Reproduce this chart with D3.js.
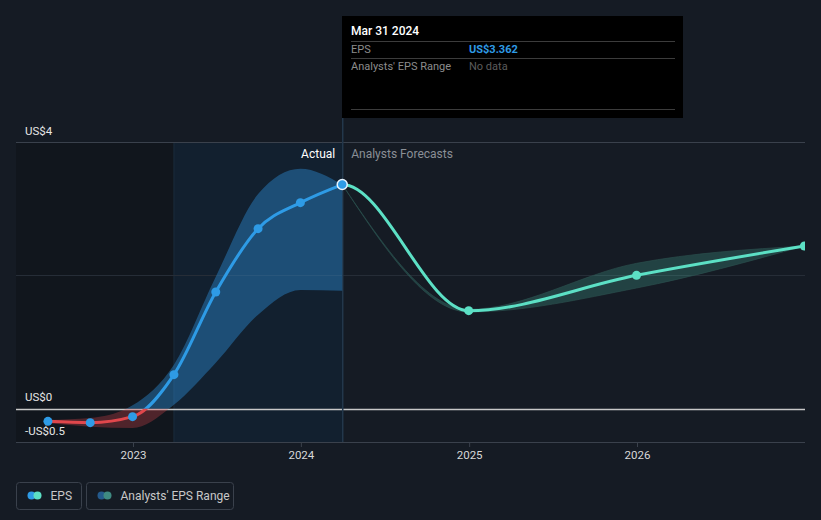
<!DOCTYPE html>
<html>
<head>
<meta charset="utf-8">
<script src="https://cdn.jsdelivr.net/npm/d3@7"></script>
<style>
  html, body { margin: 0; padding: 0; background: #151b24; }
  svg { display: block; font-family: Roboto, "Noto Sans", sans-serif; }
</style>
</head>
<body>
<svg id="chart" width="821" height="520"></svg>
<script>
// ---- data ----
const actualDates = ["2022-06-30","2022-09-30","2022-12-31","2023-03-31","2023-06-30","2023-09-30","2023-12-31","2024-03-31"];
const actualEps   = [-0.19, -0.21, -0.12, 0.51, 1.75, 2.70, 3.09, 3.362];
const pastRangeHigh = [-0.17, -0.14, 0.05, 0.66, 1.98, 3.22, 3.60, 3.362];
const pastRangeLow  = [-0.22, -0.27, -0.29, 0.06, 0.69, 1.41, 1.78, 1.77];

const forecastDates = ["2024-03-31","2024-12-31","2025-12-31","2026-12-31"];
const forecastEps   = [3.362, 1.47, 2.00, 2.44];
const forecastLow   = [3.362, 1.45, 1.81, 2.44];
const forecastHigh  = [3.362, 1.49, 2.18, 2.44];

const xTickYears = ["2023-01-01","2024-01-01","2025-01-01","2026-01-01"];
const yGridValues = [4, 2, 0, -0.5];
const yLabelValues = [4, 0, -0.5];
const yLabelText = ["US$4", "US$0", "-US$0.5"];

const tooltipDate = "Mar 31 2024";
const tooltipEps = "US$3.362";

// ---- setup ----
const parse = d3.utcParse("%Y-%m-%d");
const svg = d3.select("#chart");
const W = 821, H = 520;
const plotLeft = 16, plotRight = 805, plotTop = 142, plotBottom = 442;

const x = d3.scaleUtc()
  .domain([parse("2023-01-01"), parse("2026-01-01")])
  .range([133, 637]);
const y = d3.scaleLinear().domain([-0.5, 4]).range([442, 142]);

const actual = actualDates.map((d, i) => ({ date: parse(d), v: actualEps[i], lo: pastRangeLow[i], hi: pastRangeHigh[i] }));
const forecast = forecastDates.map((d, i) => ({ date: parse(d), v: forecastEps[i], lo: forecastLow[i], hi: forecastHigh[i] }));

const lastActual = actual[actual.length - 1];
const highlightStart = actual[3].date;

svg.append("rect").attr("width", W).attr("height", H).attr("fill", "#151b24");

const defs = svg.append("defs");
defs.append("clipPath").attr("id", "plotClip").append("rect")
  .attr("x", plotLeft).attr("y", 0).attr("width", plotRight - plotLeft).attr("height", plotBottom);
defs.append("clipPath").attr("id", "posClip").append("rect")
  .attr("x", plotLeft).attr("y", 0).attr("width", plotRight - plotLeft).attr("height", y(0));
defs.append("clipPath").attr("id", "negClip").append("rect")
  .attr("x", plotLeft).attr("y", y(0)).attr("width", plotRight - plotLeft).attr("height", plotBottom - y(0) + 10);

// background regions
svg.append("rect")
  .attr("x", plotLeft).attr("y", plotTop)
  .attr("width", x(highlightStart) - plotLeft).attr("height", plotBottom - plotTop)
  .attr("fill", "#11161d");
svg.append("rect")
  .attr("x", x(highlightStart)).attr("y", plotTop)
  .attr("width", x(lastActual.date) - x(highlightStart)).attr("height", plotBottom - plotTop)
  .attr("fill", "#12202f");
svg.append("line")
  .attr("x1", x(highlightStart)).attr("x2", x(highlightStart))
  .attr("y1", plotTop).attr("y2", plotBottom)
  .attr("stroke", "#1b2c3d").attr("stroke-width", 1);

// gridlines
yGridValues.forEach(v => {
  svg.append("line")
    .attr("x1", plotLeft).attr("x2", plotRight)
    .attr("y1", Math.round(y(v)) + 0.5).attr("y2", Math.round(y(v)) + 0.5)
    .attr("stroke", v === 0 ? "#c8c8c8" : (v === 2 ? "#262d37" : "#3a414c"))
    .attr("stroke-width", v === 0 ? 1.5 : 1);
});

yLabelValues.forEach((v, i) => {
  svg.append("text")
    .attr("x", 25).attr("y", y(v) - 7.5)
    .attr("fill", "#e6e6e6").attr("font-size", 11.5)
    .text(yLabelText[i]);
});

// x axis
const xAxis = d3.axisBottom(x)
  .tickValues(xTickYears.map(parse))
  .tickFormat(d3.utcFormat("%Y"))
  .tickSize(5).tickPadding(4);
const gx = svg.append("g").attr("transform", `translate(0,${plotBottom})`).call(xAxis);
gx.select(".domain").remove();
gx.selectAll(".tick line").attr("stroke", "#3a414c");
gx.selectAll(".tick text").attr("fill", "#d8d8d8").attr("font-size", 11.5)
  .attr("font-family", "Roboto, sans-serif");

// vertical divider at last actual
svg.append("line")
  .attr("x1", x(lastActual.date) + 0.5).attr("x2", x(lastActual.date) + 0.5)
  .attr("y1", 118).attr("y2", plotBottom)
  .attr("stroke", "#23374b").attr("stroke-width", 1.5);

const plot = svg.append("g").attr("clip-path", "url(#plotClip)");

// past analyst range band
const pastArea = d3.area().curve(d3.curveMonotoneX)
  .x(d => x(d.date)).y0(d => y(d.lo)).y1(d => y(d.hi));
plot.append("path").datum(actual).attr("d", pastArea)
  .attr("fill", "#2e8fd8").attr("fill-opacity", 0.42)
  .attr("clip-path", "url(#posClip)");
plot.append("g").attr("clip-path", "url(#negClip)")
  .append("path").datum(actual).attr("d", pastArea)
  .attr("fill", "#e0474c").attr("fill-opacity", 0.3);

// forecast range band
const fArea = d3.area().curve(d3.curveMonotoneX)
  .x(d => x(d.date)).y0(d => y(d.lo)).y1(d => y(d.hi));
plot.append("path").datum(forecast).attr("d", fArea)
  .attr("fill", "#5ce0c5").attr("fill-opacity", 0.2)
  .attr("stroke", "#2a4d4b").attr("stroke-opacity", 0.7).attr("stroke-width", 1);

// forecast line
const fLine = d3.line().curve(d3.curveMonotoneX).x(d => x(d.date)).y(d => y(d.v));
const fullForLine = [actual[actual.length - 2]].concat(forecast);
defs.append("clipPath").attr("id", "fcClip").append("rect")
  .attr("x", x(lastActual.date)).attr("y", 0).attr("width", plotRight - x(lastActual.date)).attr("height", H);
plot.append("g").attr("clip-path", "url(#fcClip)")
  .append("path").datum(fullForLine).attr("d", fLine)
  .attr("fill", "none").attr("stroke", "#5ce0c5").attr("stroke-width", 3);

// actual line
const aLine = d3.line().curve(d3.curveMonotoneX).x(d => x(d.date)).y(d => y(d.v));
plot.append("path").datum(actual).attr("d", aLine)
  .attr("fill", "none").attr("stroke", "#2e9be6").attr("stroke-width", 3)
  .attr("clip-path", "url(#posClip)");
plot.append("g").attr("clip-path", "url(#negClip)")
  .append("path").datum(actual).attr("d", aLine)
  .attr("fill", "none").attr("stroke", "#e0474c").attr("stroke-width", 3);

// points
plot.selectAll(".apt").data(actual.slice(0, -1)).enter().append("circle")
  .attr("cx", d => x(d.date)).attr("cy", d => y(d.v)).attr("r", 4.5)
  .attr("fill", "#2e9be6");
plot.selectAll(".fpt").data(forecast.slice(1)).enter().append("circle")
  .attr("cx", d => x(d.date)).attr("cy", d => y(d.v)).attr("r", 4.5)
  .attr("fill", "#5ce0c5");
plot.append("circle")
  .attr("cx", x(lastActual.date)).attr("cy", y(lastActual.v)).attr("r", 5)
  .attr("fill", "#2e9be6").attr("stroke", "#e8f4ff").attr("stroke-width", 1.5);

// Actual / Forecast labels
svg.append("text").attr("x", x(lastActual.date) - 7).attr("y", 158)
  .attr("text-anchor", "end").attr("fill", "#ffffff").attr("font-size", 12).text("Actual");
svg.append("text").attr("x", x(lastActual.date) + 9).attr("y", 158)
  .attr("fill", "#8a8f96").attr("font-size", 12).text("Analysts Forecasts");

// tooltip
const tt = svg.append("g");
tt.append("rect").attr("x", 342).attr("y", 16).attr("width", 341).attr("height", 102).attr("fill", "#000000");
tt.append("text").attr("x", 351).attr("y", 35).attr("fill", "#ffffff")
  .attr("font-size", 12).attr("font-weight", 500).text(tooltipDate);
[41.5, 58.5, 109.5].forEach(yy => {
  tt.append("line").attr("x1", 351).attr("x2", 675).attr("y1", yy).attr("y2", yy)
    .attr("stroke", "#3c3c3c").attr("stroke-width", 1);
});
tt.append("text").attr("x", 351).attr("y", 53).attr("fill", "#8c8c8c").attr("font-size", 11).text("EPS");
tt.append("text").attr("x", 469).attr("y", 53).attr("fill", "#2e9be6").attr("font-size", 11)
  .attr("font-weight", "bold").text(tooltipEps);
tt.append("text").attr("x", 351).attr("y", 70).attr("fill", "#8c8c8c").attr("font-size", 11).text("Analysts' EPS Range");
tt.append("text").attr("x", 469).attr("y", 70).attr("fill", "#5c5c5c").attr("font-size", 11).text("No data");

// legend
const legend = svg.append("g");
const items = [
  { x: 16.5, w: 65, label: "EPS", c1: "#2e9be6", c2: "#5ce0c5" },
  { x: 86.5, w: 147, label: "Analysts' EPS Range", c1: "#245a8c", c2: "#3f8a82" }
];
items.forEach(it => {
  legend.append("rect").attr("x", it.x).attr("y", 482.5).attr("width", it.w).attr("height", 27)
    .attr("rx", 3).attr("fill", "none").attr("stroke", "#3a414c");
  legend.append("circle").attr("cx", it.x + 15).attr("cy", 495.5).attr("r", 4).attr("fill", it.c1);
  legend.append("circle").attr("cx", it.x + 21).attr("cy", 495.5).attr("r", 4).attr("fill", it.c2);
  legend.append("text").attr("x", it.x + 34).attr("y", 500).attr("fill", "#c8c8c8")
    .attr("font-size", 12).text(it.label);
});
</script>
</body>
</html>
